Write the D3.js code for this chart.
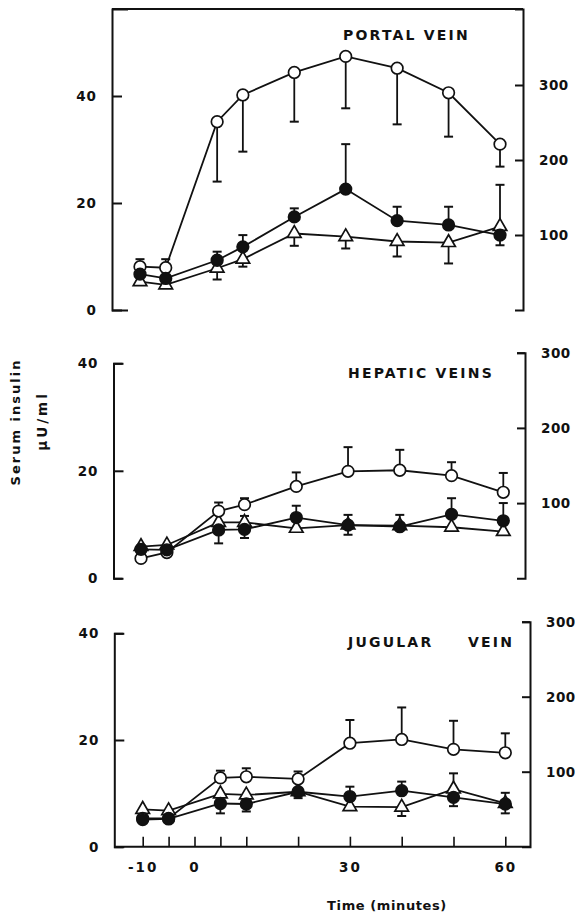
<!DOCTYPE html>
<html>
<head>
<meta charset="utf-8">
<script src="https://cdn.jsdelivr.net/npm/d3@7"></script>
<style>
  body { margin: 0; background: #fff; }
  text { font-family: "DejaVu Sans", sans-serif; font-weight: bold; fill: #111; }
</style>
</head>
<body>
<div id="chart"></div>
<script>
// Datos
const tiempos = [-10, -5, 5, 10, 20, 30, 40, 50, 60]
const xTicks = [-10, -5, 0, 5, 10, 20, 30, 40, 50, 60]
const xEtiquetas = [-10, 0, 30, 60]
const yTicks = [0, 20, 40]
const yDerTicks = [100, 200, 300]

// Portal vein
const portalAbierto = [8.1, 7.9, 35.2, 40.2, 44.4, 47.4, 45.2, 40.6, 31.0]
const portalAbiertoErr = [[9.5], [9.5], [24.0], [29.6], [35.2], [37.7], [34.7], [32.4], [26.8]]
const portalLleno = [6.7, 5.9, 9.3, 11.8, 17.4, 22.6, 16.7, 15.9, 14.0]
const portalLlenoErr = [[], [], [10.9], [14.0], [19.0], [31.0], [19.3], [19.3], [12.1]]
const portalTriang = [5.3, 4.7, 7.8, 9.5, 14.3, 13.7, 12.8, 12.6, 15.6]
const portalTriangErr = [[], [], [5.7], [8.1], [12.0], [11.5], [10.0], [8.7], [23.4]]

// Hepatic veins
const hepAbierto = [3.7, 4.8, 12.5, 13.7, 17.1, 19.9, 20.1, 19.1, 16.0]
const hepAbiertoErr = [[], [], [14.1], [14.9], [19.7], [24.4], [23.9], [21.6], [19.6]]
const hepLleno = [5.4, 5.3, 9.0, 9.1, 11.3, 9.9, 9.6, 11.9, 10.7]
const hepLlenoErr = [[], [], [6.5], [7.5], [13.5], [11.8, 8.1], [11.8], [14.9], [14.0]]
const hepTriang = [5.9, 6.2, 10.4, 10.4, 9.3, 9.9, 9.8, 9.5, 8.7]
const hepTriangErr = [[], [], [], [11.6], [], [], [], [], []]

// Jugular vein
const jugAbierto = [5.3, 5.3, 12.9, 13.1, 12.7, 19.4, 20.1, 18.25, 17.6]
const jugAbiertoErr = [[], [], [14.25], [14.7], [14.1], [23.75], [26.1], [23.6], [21.25]]
const jugLleno = [5.1, 5.2, 8.1, 8.0, 10.3, 9.4, 10.5, 9.25, 8.0]
const jugLlenoErr = [[], [], [6.25, 9.3], [6.6], [9.1], [11.25], [12.2], [7.6], [10.1, 6.25]]
const jugTriang = [7.0, 6.75, 9.9, 9.7, 10.3, 7.5, 7.4, 10.8, 8.1]
const jugTriangErr = [[], [], [], [], [], [], [5.75], [13.75], []]

const anchoTotal = 575
const altoTotal = 917

const svg = d3.select("#chart").append("svg")
    .attr("width", anchoTotal)
    .attr("height", altoTotal)

// Paneles (posiciones en pixeles)
const paneles = [
    {
        titulo: ["PORTAL VEIN"], tituloX: [343], tituloY: 40,
        izq: 112, der: 523, y0: 310, y40: 96, arriba: 9, yDer300: 85,
        x10: 140, x60: 500, caja: true,
        series: [
            { v: portalTriang, e: portalTriangErr, tipo: "tri" },
            { v: portalAbierto, e: portalAbiertoErr, tipo: "abierto" },
            { v: portalLleno, e: portalLlenoErr, tipo: "lleno" },
        ]
    },
    {
        titulo: ["HEPATIC VEINS"], tituloX: [348], tituloY: 378,
        izq: 113.5, der: 525, y0: 578.3, y40: 363.3, arriba: 363.3, yDer300: 352.7,
        x10: 141, x60: 503.3, caja: false,
        series: [
            { v: hepTriang, e: hepTriangErr, tipo: "tri" },
            { v: hepAbierto, e: hepAbiertoErr, tipo: "abierto" },
            { v: hepLleno, e: hepLlenoErr, tipo: "lleno" },
        ]
    },
    {
        titulo: ["JUGULAR", "VEIN"], tituloX: [348, 468], tituloY: 647,
        izq: 114.3, der: 530, y0: 846.7, y40: 633.3, arriba: 633.3, yDer300: 621.7,
        x10: 142.7, x60: 505.3, caja: false, ejeX: true,
        series: [
            { v: jugTriang, e: jugTriangErr, tipo: "tri" },
            { v: jugAbierto, e: jugAbiertoErr, tipo: "abierto" },
            { v: jugLleno, e: jugLlenoErr, tipo: "lleno" },
        ]
    },
]

const triangulo = d3.symbol().type(d3.symbolTriangle).size(80)

paneles.forEach(p => {
    const g = svg.append("g")

    // Escaladores
    const x = d3.scaleLinear().domain([-10, 60]).range([p.x10, p.x60])
    const y = d3.scaleLinear().domain([0, 40]).range([p.y0, p.y40])
    const yDer = d3.scaleLinear().domain([0, 300]).range([p.y0, p.yDer300])

    // Eje izquierdo
    const yIzqTop = y.invert(p.arriba)
    const yEje = d3.scaleLinear().domain([0, yIzqTop]).range([p.y0, p.arriba])
    g.append("g")
        .attr("transform", `translate(${p.izq},0)`)
        .call(d3.axisLeft(yEje).tickValues(yTicks).tickSize(-10).tickSizeOuter(p.caja ? -16 : -9).tickPadding(15))
        .call(a => a.selectAll("text").style("font-size", "13.5px").attr("font-family", null).attr("letter-spacing", 1))

    // Eje derecho
    const derTop = Math.min(p.arriba, p.yDer300)
    const yDerEje = d3.scaleLinear().domain([0, yDer.invert(derTop)]).range([p.y0, derTop])
    g.append("g")
        .attr("transform", `translate(${p.der},0)`)
        .call(d3.axisRight(yDerEje).tickValues(yDerTicks).tickSize(-8).tickSizeOuter(-8).tickPadding(16))
        .call(a => a.selectAll("text").style("font-size", "13.5px").attr("font-family", null).attr("letter-spacing", 0.5))

    g.selectAll(".domain, .tick line").attr("stroke", "#111").attr("stroke-width", 2)

    if (p.caja) {
        g.append("line")
            .attr("x1", p.izq).attr("x2", p.der)
            .attr("y1", p.arriba).attr("y2", p.arriba)
            .attr("stroke", "#111").attr("stroke-width", 2)
    }

    if (p.ejeX) {
        g.append("line")
            .attr("x1", p.izq).attr("x2", p.der)
            .attr("y1", p.y0).attr("y2", p.y0)
            .attr("stroke", "#111").attr("stroke-width", 2)
        const xAxis = g.append("g")
            .attr("transform", `translate(0,${p.y0})`)
            .call(d3.axisBottom(x).tickValues(xTicks).tickSize(-10).tickPadding(16)
                .tickFormat(d => xEtiquetas.includes(d) ? String(d) : ""))
        xAxis.select(".domain").remove()
        xAxis.selectAll(".tick line").attr("stroke", "#111").attr("stroke-width", 1.6)
        xAxis.selectAll("text").style("font-size", "13.5px").attr("font-family", null).attr("letter-spacing", 2)
    }

    // Titulo
    const t = g.append("text").attr("y", p.tituloY)
        .style("font-size", "14px").attr("letter-spacing", 2.2)
    p.titulo.forEach((s, i) => t.append("tspan").attr("x", p.tituloX[i]).text(s))

    // Lineas
    const linea = d3.line().x((d, i) => x(tiempos[i])).y(d => y(d))
    p.series.forEach(s => {
        g.append("path").datum(s.v)
            .attr("d", linea)
            .attr("fill", "none")
            .attr("stroke", "#111")
            .attr("stroke-width", 1.8)
    })

    // Barras de error
    p.series.forEach(s => {
        s.v.forEach((v, i) => {
            s.e[i].forEach(tip => {
                g.append("line")
                    .attr("x1", x(tiempos[i])).attr("x2", x(tiempos[i]))
                    .attr("y1", y(v)).attr("y2", y(tip))
                    .attr("stroke", "#111").attr("stroke-width", 1.8)
                g.append("line")
                    .attr("x1", x(tiempos[i]) - 4.5).attr("x2", x(tiempos[i]) + 4.5)
                    .attr("y1", y(tip)).attr("y2", y(tip))
                    .attr("stroke", "#111").attr("stroke-width", 2)
            })
        })
    })

    // Marcadores
    p.series.forEach(s => {
        const m = g.append("g")
        if (s.tipo === "tri") {
            m.selectAll("path").data(s.v).join("path")
                .attr("d", triangulo)
                .attr("transform", (d, i) => `translate(${x(tiempos[i])},${y(d)})`)
                .attr("fill", "#fff").attr("stroke", "#111").attr("stroke-width", 1.7)
        } else {
            m.selectAll("circle").data(s.v).join("circle")
                .attr("cx", (d, i) => x(tiempos[i]))
                .attr("cy", d => y(d))
                .attr("r", 5.8)
                .attr("fill", s.tipo === "lleno" ? "#111" : "#fff")
                .attr("stroke", "#111").attr("stroke-width", 1.7)
        }
    })
})

// Etiquetas generales
svg.append("text")
    .attr("transform", "translate(20,422) rotate(-90)")
    .attr("text-anchor", "middle")
    .style("font-size", "13px")
    .attr("letter-spacing", 2)
    .text("Serum insulin")

svg.append("text")
    .attr("transform", "translate(47,421) rotate(-90)")
    .attr("text-anchor", "middle")
    .style("font-size", "13.5px")
    .attr("letter-spacing", 3)
    .text("µU/ml")

svg.append("text")
    .attr("x", 387).attr("y", 910)
    .attr("text-anchor", "middle")
    .style("font-size", "13px")
    .attr("letter-spacing", 0.6)
    .text("Time (minutes)")
</script>
</body>
</html>
